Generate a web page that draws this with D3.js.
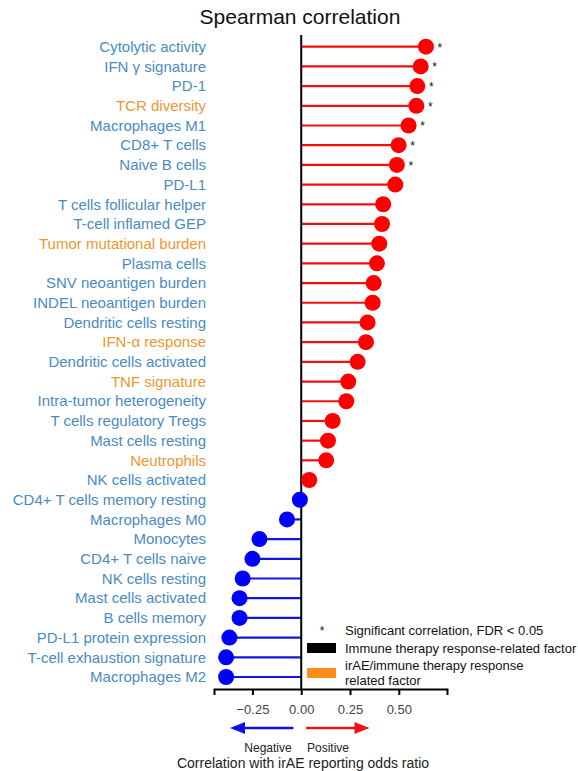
<!DOCTYPE html>
<html><head><meta charset="utf-8">
<script src="https://cdn.jsdelivr.net/npm/d3@7"></script>
<style>body{margin:0;background:#fff}svg{display:block;font-family:"Liberation Sans",Arial,sans-serif}</style>
</head><body>
<svg id="c" width="578" height="771"></svg>
<script>
const categories = ["Cytolytic activity","IFN \u03b3 signature","PD-1","TCR diversity","Macrophages M1","CD8+ T cells","Naive B cells","PD-L1","T cells follicular helper","T-cell inflamed GEP","Tumor mutational burden","Plasma cells","SNV neoantigen burden","INDEL neoantigen burden","Dendritic cells resting","IFN-\u03b1 response","Dendritic cells activated","TNF signature","Intra-tumor heterogeneity","T cells regulatory Tregs","Mast cells resting","Neutrophils","NK cells activated","CD4+ T cells memory resting","Macrophages M0","Monocytes","CD4+ T cells naive","NK cells resting","Mast cells activated","B cells memory","PD-L1 protein expression","T-cell exhaustion signature","Macrophages M2"];
const values = [0.639,0.612,0.595,0.59,0.55,0.499,0.49,0.482,0.42,0.414,0.40,0.388,0.371,0.366,0.34,0.332,0.289,0.241,0.231,0.161,0.137,0.128,0.041,-0.007,-0.073,-0.214,-0.25,-0.30,-0.316,-0.316,-0.368,-0.385,-0.385];
const significant = [true,true,true,true,true,true,true,false,false,false,false,false,false,false,false,false,false,false,false,false,false,false,false,false,false,false,false,false,false,false,false,false,false];
const factorType = ["immune","immune","immune","irae","immune","immune","immune","immune","immune","immune","irae","immune","immune","immune","immune","irae","immune","irae","immune","immune","immune","irae","immune","immune","immune","immune","immune","immune","immune","immune","immune","immune","immune"];
const tickValues = [-0.25,0,0.25,0.5];

const labelColor = {immune:"#4a8bc0", irae:"#ee9630"};
const svg = d3.select("#c");
const x = d3.scaleLinear().domain([-0.447,0.747]).range([214,447]);
const y = d3.scalePoint().domain(categories).range([46.7,677]);

svg.append("text").attr("x",300).attr("y",24).attr("text-anchor","middle")
  .attr("font-size",21).attr("fill","#111").text("Spearman correlation");

const data = categories.map((c,i)=>({c,v:values[i],s:significant[i],t:factorType[i]}));

// stems
svg.append("g").selectAll("line").data(data).join("line")
  .attr("x1",x(0)).attr("x2",d=>x(d.v)).attr("y1",d=>y(d.c)).attr("y2",d=>y(d.c))
  .attr("stroke",d=>d.v>=0?"#f01010":"#1515e0").attr("stroke-width",2.2);

// zero line
svg.append("line").attr("x1",x(0)).attr("x2",x(0)).attr("y1",35).attr("y2",689)
  .attr("stroke","#000").attr("stroke-width",2);

// dots
svg.append("g").selectAll("circle").data(data).join("circle")
  .attr("cx",d=>x(d.v)).attr("cy",d=>y(d.c)).attr("r",8)
  .attr("fill",d=>d.v>=0?"#ff0000":"#0000ff");

// stars
svg.append("g").selectAll("text").data(data.filter(d=>d.s)).join("text")
  .attr("x",d=>x(d.v)+14).attr("y",d=>y(d.c)+5).attr("text-anchor","middle")
  .attr("font-size",12).attr("fill","#111").text("*");

// labels
svg.append("g").selectAll("text").data(data).join("text")
  .attr("x",206).attr("y",d=>y(d.c)).attr("dy","0.35em").attr("text-anchor","end")
  .attr("font-size",15).attr("fill",d=>labelColor[d.t]).text(d=>d.c);

// axis
const ax = svg.append("g").attr("transform","translate(0,689)")
  .call(d3.axisBottom(x).tickValues(tickValues).tickFormat(d3.format(".2f")).tickSizeOuter(0).tickSize(6).tickPadding(10));
ax.select(".domain").attr("stroke","#000").attr("stroke-width",2);
ax.selectAll(".tick line").attr("stroke","#000").attr("stroke-width",2);
ax.selectAll(".tick text").attr("font-size",13).attr("fill","#444").attr("font-family","Liberation Sans, Arial, sans-serif");

// direction arrows
function arrow(x1,x2,color){
  const dir = Math.sign(x2-x1), head=15;
  svg.append("line").attr("x1",x1).attr("x2",x2-dir*head+dir*1).attr("y1",728).attr("y2",728)
    .attr("stroke",color).attr("stroke-width",2.5);
  svg.append("path").attr("d",`M${x2},728 L${x2-dir*head},722 L${x2-dir*head},734 Z`).attr("fill",color);
}
arrow(x(-0.04),x(-0.365),"#1010e0");
arrow(x(0.025),x(0.35),"#ee1515");
svg.append("text").attr("x",268).attr("y",752).attr("text-anchor","middle").attr("font-size",12).attr("fill","#222").text("Negative");
svg.append("text").attr("x",328).attr("y",752).attr("text-anchor","middle").attr("font-size",12).attr("fill","#222").text("Positive");
svg.append("text").attr("x",303).attr("y",768).attr("text-anchor","middle").attr("font-size",14).attr("fill","#222").text("Correlation with irAE reporting odds ratio");

// legend
const lg = svg.append("g").attr("font-size",13).attr("fill","#111");
lg.append("text").attr("x",322).attr("y",635).attr("text-anchor","middle").attr("font-size",12).text("*");
lg.append("text").attr("x",345).attr("y",630).attr("dy","0.35em").text("Significant correlation, FDR < 0.05");
lg.append("rect").attr("x",307).attr("y",643).attr("width",29).attr("height",10).attr("fill","#000");
lg.append("text").attr("x",345).attr("y",648).attr("dy","0.35em").text("Immune therapy response-related factor");
lg.append("rect").attr("x",307).attr("y",668).attr("width",29).attr("height",10).attr("fill","#ff8c1a");
lg.append("text").attr("x",345).attr("y",665).attr("dy","0.35em").text("irAE/immune therapy response");
lg.append("text").attr("x",345).attr("y",680).attr("dy","0.35em").text("related factor");
</script>
</body></html>
